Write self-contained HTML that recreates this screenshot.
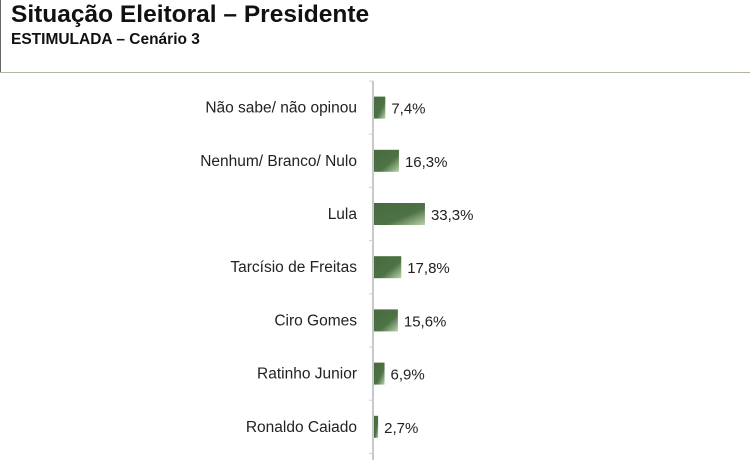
<!DOCTYPE html>
<html><head><meta charset="utf-8"><style>
body{margin:0;width:750px;height:460px;background:#fff;font-family:"Liberation Sans",sans-serif;overflow:hidden;position:relative}
</style></head><body>
<div style="position:absolute;left:11px;top:1px;font-size:24.5px;font-weight:bold;color:#111">Situação Eleitoral – Presidente</div>
<div style="position:absolute;left:11px;top:31px;font-size:15.5px;font-weight:bold;color:#111">ESTIMULADA – Cenário 3</div>
<div style="position:absolute;left:0;top:0;width:1px;height:73px;background:#666"></div>
<div style="position:absolute;left:0;top:72px;width:750px;height:1px;background:#a9b99a"></div>
<svg id="chart" width="750" height="460" style="position:absolute;left:0;top:0">
<defs><linearGradient id="g" x1="0" y1="0" x2="1" y2="1">
<stop offset="0" stop-color="#476b3e"/><stop offset="0.6" stop-color="#4d7244"/><stop offset="1" stop-color="#b9d3ad"/></linearGradient></defs>
</svg>
<script>
const categories=["Não sabe/ não opinou","Nenhum/ Branco/ Nulo","Lula","Tarcísio de Freitas","Ciro Gomes","Ratinho Junior","Ronaldo Caiado"];
const values=[7.4,16.3,33.3,17.8,15.6,6.9,2.7];
const labels=["7,4%","16,3%","33,3%","17,8%","15,6%","6,9%","2,7%"];
const svg=document.getElementById('chart');const NS='http://www.w3.org/2000/svg';
const x0=373,scale=1.53,y0=81,step=53.2,bh=22;
const xs=v=>x0+v*scale;const yc=i=>y0+step*(i+0.5);
function mk(t,a){const e=document.createElementNS(NS,t);for(const k in a)e.setAttribute(k,a[k]);svg.appendChild(e);return e;}
let ax=mk('line',{x1:x0,y1:y0,x2:x0,y2:460,stroke:'#c8c8cc','stroke-width':2});


for(let i=0;i<=categories.length;i++){const t=mk('line',{x1:x0-4,x2:x0,y1:y0+step*i,y2:y0+step*i,stroke:'#d0d0d4','stroke-width':1});

}
categories.forEach((c,i)=>{
const l=mk('text',{x:357,y:yc(i)+5,'text-anchor':'end','font-size':15.5,fill:'#222'});l.textContent=c;


const r=mk('rect',{x:x0+1,y:yc(i)-bh/2,width:xs(values[i])-x0,height:bh,fill:'url(#g)'});


const v=mk('text',{x:xs(values[i])+7,y:yc(i)+6,'font-size':15,fill:'#222'});v.textContent=labels[i];


});
</script>
</body></html>
